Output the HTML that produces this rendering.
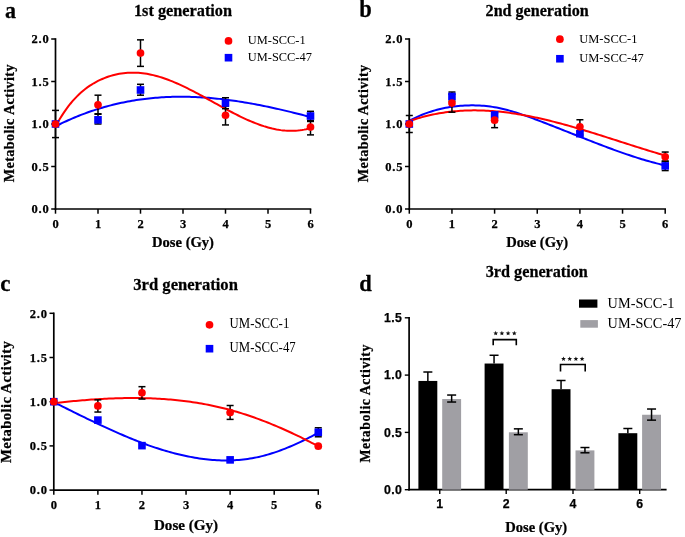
<!DOCTYPE html>
<html><head><meta charset="utf-8"><style>
html,body{margin:0;padding:0;background:#fff;width:685px;height:537px;overflow:hidden}
svg{display:block;filter:blur(0.4px)} text[font-weight=bold]{stroke:#000;stroke-width:0.25px}
</style></head><body>
<svg width="685" height="537" viewBox="0 0 685 537">
<rect width="685" height="537" fill="#fff"/>
<line x1="55.5" y1="38.2" x2="55.5" y2="209.8" stroke="#000" stroke-width="1.7"/>
<line x1="51.2" y1="209" x2="55.5" y2="209" stroke="#000" stroke-width="1.5"/>
<text x="49.5" y="213.2" font-family='"Liberation Serif", serif' font-size="12.5" font-weight="bold" text-anchor="end" letter-spacing="0.8" >0.0</text>
<line x1="51.2" y1="166.5" x2="55.5" y2="166.5" stroke="#000" stroke-width="1.5"/>
<text x="49.5" y="170.7" font-family='"Liberation Serif", serif' font-size="12.5" font-weight="bold" text-anchor="end" letter-spacing="0.8" >0.5</text>
<line x1="51.2" y1="124" x2="55.5" y2="124" stroke="#000" stroke-width="1.5"/>
<text x="49.5" y="128.2" font-family='"Liberation Serif", serif' font-size="12.5" font-weight="bold" text-anchor="end" letter-spacing="0.8" >1.0</text>
<line x1="51.2" y1="81.5" x2="55.5" y2="81.5" stroke="#000" stroke-width="1.5"/>
<text x="49.5" y="85.7" font-family='"Liberation Serif", serif' font-size="12.5" font-weight="bold" text-anchor="end" letter-spacing="0.8" >1.5</text>
<line x1="51.2" y1="39" x2="55.5" y2="39" stroke="#000" stroke-width="1.5"/>
<text x="49.5" y="43.2" font-family='"Liberation Serif", serif' font-size="12.5" font-weight="bold" text-anchor="end" letter-spacing="0.8" >2.0</text>
<line x1="54.7" y1="209" x2="311.3" y2="209" stroke="#000" stroke-width="1.7"/>
<line x1="55.5" y1="209" x2="55.5" y2="213.7" stroke="#000" stroke-width="1.5"/>
<text x="55.5" y="227.5" font-family='"Liberation Serif", serif' font-size="12.5" font-weight="bold" text-anchor="middle" >0</text>
<line x1="98" y1="209" x2="98" y2="213.7" stroke="#000" stroke-width="1.5"/>
<text x="98" y="227.5" font-family='"Liberation Serif", serif' font-size="12.5" font-weight="bold" text-anchor="middle" >1</text>
<line x1="140.5" y1="209" x2="140.5" y2="213.7" stroke="#000" stroke-width="1.5"/>
<text x="140.5" y="227.5" font-family='"Liberation Serif", serif' font-size="12.5" font-weight="bold" text-anchor="middle" >2</text>
<line x1="183" y1="209" x2="183" y2="213.7" stroke="#000" stroke-width="1.5"/>
<text x="183" y="227.5" font-family='"Liberation Serif", serif' font-size="12.5" font-weight="bold" text-anchor="middle" >3</text>
<line x1="225.5" y1="209" x2="225.5" y2="213.7" stroke="#000" stroke-width="1.5"/>
<text x="225.5" y="227.5" font-family='"Liberation Serif", serif' font-size="12.5" font-weight="bold" text-anchor="middle" >4</text>
<line x1="268" y1="209" x2="268" y2="213.7" stroke="#000" stroke-width="1.5"/>
<text x="268" y="227.5" font-family='"Liberation Serif", serif' font-size="12.5" font-weight="bold" text-anchor="middle" >5</text>
<line x1="310.5" y1="209" x2="310.5" y2="213.7" stroke="#000" stroke-width="1.5"/>
<text x="310.5" y="227.5" font-family='"Liberation Serif", serif' font-size="12.5" font-weight="bold" text-anchor="middle" >6</text>
<text transform="translate(183 16) scale(1 1.04)" font-family='"Liberation Serif", serif' font-size="16.3" font-weight="bold" text-anchor="middle" >1st generation</text>
<text transform="translate(14 123.15) rotate(-90)" font-family='"Liberation Serif", serif' font-size="14.2" font-weight="bold" text-anchor="middle" letter-spacing="0.36" >Metabolic Activity</text>
<text transform="translate(183 246.8) scale(1 0.95)" font-family='"Liberation Serif", serif' font-size="14.6" font-weight="bold" text-anchor="middle" >Dose (Gy)</text>
<text transform="translate(5 17.5) scale(1 1.06)" font-family='"Liberation Serif", serif' font-size="22" font-weight="bold" text-anchor="start" >a</text>
<path d="M55.50,126.36 L57.62,125.29 L59.75,124.24 L61.88,123.21 L64.00,122.20 L66.12,121.22 L68.25,120.25 L70.38,119.31 L72.50,118.39 L74.62,117.49 L76.75,116.62 L78.88,115.76 L81.00,114.92 L83.12,114.11 L85.25,113.32 L87.38,112.54 L89.50,111.79 L91.62,111.06 L93.75,110.35 L95.88,109.65 L98.00,108.98 L100.12,108.33 L102.25,107.69 L104.38,107.08 L106.50,106.49 L108.62,105.91 L110.75,105.35 L112.88,104.82 L115.00,104.30 L117.12,103.80 L119.25,103.31 L121.38,102.85 L123.50,102.41 L125.62,101.98 L127.75,101.57 L129.88,101.18 L132.00,100.80 L134.12,100.45 L136.25,100.11 L138.38,99.78 L140.50,99.48 L142.62,99.19 L144.75,98.92 L146.88,98.66 L149.00,98.43 L151.12,98.20 L153.25,98.00 L155.38,97.81 L157.50,97.63 L159.62,97.48 L161.75,97.33 L163.88,97.21 L166.00,97.10 L168.12,97.00 L170.25,96.92 L172.38,96.85 L174.50,96.80 L176.62,96.76 L178.75,96.74 L180.88,96.73 L183.00,96.74 L185.12,96.76 L187.25,96.80 L189.38,96.84 L191.50,96.91 L193.62,96.98 L195.75,97.07 L197.88,97.17 L200.00,97.29 L202.12,97.41 L204.25,97.55 L206.38,97.71 L208.50,97.87 L210.63,98.05 L212.75,98.24 L214.88,98.44 L217.00,98.65 L219.12,98.87 L221.25,99.11 L223.38,99.36 L225.50,99.61 L227.62,99.88 L229.75,100.16 L231.88,100.45 L234.00,100.75 L236.12,101.06 L238.25,101.38 L240.38,101.71 L242.50,102.05 L244.62,102.39 L246.75,102.75 L248.88,103.12 L251.00,103.50 L253.13,103.88 L255.25,104.28 L257.38,104.68 L259.50,105.09 L261.62,105.51 L263.75,105.93 L265.88,106.37 L268.00,106.81 L270.12,107.26 L272.25,107.72 L274.38,108.18 L276.50,108.66 L278.62,109.14 L280.75,109.62 L282.88,110.11 L285.00,110.61 L287.12,111.12 L289.25,111.63 L291.38,112.15 L293.50,112.67 L295.62,113.20 L297.75,113.73 L299.88,114.27 L302.00,114.81 L304.12,115.36 L306.25,115.92 L308.38,116.47 L310.50,117.04" fill="none" stroke="#0000ff" stroke-width="2.0"/>
<path d="M55.50,126.45 L57.62,122.64 L59.75,119.03 L61.88,115.61 L64.00,112.38 L66.12,109.33 L68.25,106.46 L70.38,103.75 L72.50,101.21 L74.62,98.82 L76.75,96.58 L78.88,94.48 L81.00,92.52 L83.12,90.69 L85.25,88.98 L87.38,87.39 L89.50,85.91 L91.62,84.54 L93.75,83.26 L95.88,82.07 L98.00,80.96 L100.12,79.94 L102.25,78.98 L104.38,78.10 L106.50,77.29 L108.62,76.54 L110.75,75.87 L112.88,75.26 L115.00,74.72 L117.12,74.24 L119.25,73.82 L121.38,73.47 L123.50,73.18 L125.62,72.96 L127.75,72.79 L129.88,72.68 L132.00,72.63 L134.12,72.64 L136.25,72.71 L138.38,72.82 L140.50,73.00 L142.62,73.23 L144.75,73.51 L146.88,73.84 L149.00,74.22 L151.12,74.65 L153.25,75.13 L155.38,75.66 L157.50,76.23 L159.62,76.85 L161.75,77.52 L163.88,78.22 L166.00,78.96 L168.12,79.74 L170.25,80.56 L172.38,81.41 L174.50,82.30 L176.62,83.22 L178.75,84.16 L180.88,85.13 L183.00,86.13 L185.12,87.15 L187.25,88.20 L189.38,89.27 L191.50,90.35 L193.62,91.45 L195.75,92.57 L197.88,93.70 L200.00,94.84 L202.12,96.00 L204.25,97.16 L206.38,98.33 L208.50,99.50 L210.63,100.68 L212.75,101.86 L214.88,103.04 L217.00,104.21 L219.12,105.39 L221.25,106.56 L223.38,107.72 L225.50,108.87 L227.62,110.01 L229.75,111.14 L231.88,112.26 L234.00,113.36 L236.12,114.44 L238.25,115.51 L240.38,116.55 L242.50,117.57 L244.62,118.57 L246.75,119.54 L248.88,120.48 L251.00,121.40 L253.13,122.28 L255.25,123.13 L257.38,123.94 L259.50,124.72 L261.62,125.46 L263.75,126.17 L265.88,126.82 L268.00,127.44 L270.12,128.01 L272.25,128.54 L274.38,129.01 L276.50,129.44 L278.62,129.81 L280.75,130.13 L282.88,130.40 L285.00,130.61 L287.12,130.76 L289.25,130.85 L291.38,130.87 L293.50,130.84 L295.62,130.73 L297.75,130.56 L299.88,130.32 L302.00,130.01 L304.12,129.63 L306.25,129.18 L308.38,128.64 L310.50,128.03" fill="none" stroke="#ff0000" stroke-width="2.0"/>
<line x1="98" y1="124" x2="98" y2="114.22" stroke="#000" stroke-width="1.5"/>
<line x1="94.5" y1="124" x2="101.5" y2="124" stroke="#000" stroke-width="1.5"/>
<line x1="94.5" y1="114.22" x2="101.5" y2="114.22" stroke="#000" stroke-width="1.5"/>
<line x1="140.5" y1="95.19" x2="140.5" y2="84.3" stroke="#000" stroke-width="1.5"/>
<line x1="137" y1="95.19" x2="144" y2="95.19" stroke="#000" stroke-width="1.5"/>
<line x1="137" y1="84.3" x2="144" y2="84.3" stroke="#000" stroke-width="1.5"/>
<line x1="225.5" y1="108.7" x2="225.5" y2="97.73" stroke="#000" stroke-width="1.5"/>
<line x1="222" y1="108.7" x2="229" y2="108.7" stroke="#000" stroke-width="1.5"/>
<line x1="222" y1="97.73" x2="229" y2="97.73" stroke="#000" stroke-width="1.5"/>
<line x1="310.5" y1="120.6" x2="310.5" y2="111.33" stroke="#000" stroke-width="1.5"/>
<line x1="307" y1="120.6" x2="314" y2="120.6" stroke="#000" stroke-width="1.5"/>
<line x1="307" y1="111.33" x2="314" y2="111.33" stroke="#000" stroke-width="1.5"/>
<line x1="55.5" y1="137.6" x2="55.5" y2="110.4" stroke="#000" stroke-width="1.5"/>
<line x1="52" y1="137.6" x2="59" y2="137.6" stroke="#000" stroke-width="1.5"/>
<line x1="52" y1="110.4" x2="59" y2="110.4" stroke="#000" stroke-width="1.5"/>
<line x1="98" y1="113.8" x2="98" y2="95.19" stroke="#000" stroke-width="1.5"/>
<line x1="94.5" y1="113.8" x2="101.5" y2="113.8" stroke="#000" stroke-width="1.5"/>
<line x1="94.5" y1="95.19" x2="101.5" y2="95.19" stroke="#000" stroke-width="1.5"/>
<line x1="140.5" y1="66.37" x2="140.5" y2="39.85" stroke="#000" stroke-width="1.5"/>
<line x1="137" y1="66.37" x2="144" y2="66.37" stroke="#000" stroke-width="1.5"/>
<line x1="137" y1="39.85" x2="144" y2="39.85" stroke="#000" stroke-width="1.5"/>
<line x1="225.5" y1="124.94" x2="225.5" y2="106.15" stroke="#000" stroke-width="1.5"/>
<line x1="222" y1="124.94" x2="229" y2="124.94" stroke="#000" stroke-width="1.5"/>
<line x1="222" y1="106.15" x2="229" y2="106.15" stroke="#000" stroke-width="1.5"/>
<line x1="310.5" y1="134.88" x2="310.5" y2="121.45" stroke="#000" stroke-width="1.5"/>
<line x1="307" y1="134.88" x2="314" y2="134.88" stroke="#000" stroke-width="1.5"/>
<line x1="307" y1="121.45" x2="314" y2="121.45" stroke="#000" stroke-width="1.5"/>
<rect x="51.7" y="120.2" width="7.6" height="7.6" fill="#0000ff"/>
<rect x="94.2" y="116.04" width="7.6" height="7.6" fill="#0000ff"/>
<rect x="136.7" y="86.2" width="7.6" height="7.6" fill="#0000ff"/>
<rect x="221.7" y="99.2" width="7.6" height="7.6" fill="#0000ff"/>
<rect x="306.7" y="112.21" width="7.6" height="7.6" fill="#0000ff"/>
<circle cx="55.5" cy="124" r="3.85" fill="#ff0000"/>
<circle cx="98" cy="104.79" r="3.85" fill="#ff0000"/>
<circle cx="140.5" cy="53.11" r="3.85" fill="#ff0000"/>
<circle cx="225.5" cy="115.25" r="3.85" fill="#ff0000"/>
<circle cx="310.5" cy="127.06" r="3.85" fill="#ff0000"/>
<circle cx="228.5" cy="40.9" r="3.85" fill="#ff0000"/>
<rect x="224.7" y="53.9" width="7.6" height="7.6" fill="#0000ff"/>
<text transform="translate(247.8 44) scale(1 1.05)" font-family='"Liberation Serif", serif' font-size="12.4" font-weight="normal" text-anchor="start" >UM-SCC-1</text>
<text transform="translate(247.8 61.1) scale(1 1.05)" font-family='"Liberation Serif", serif' font-size="12.4" font-weight="normal" text-anchor="start" >UM-SCC-47</text>
<line x1="409.3" y1="38.2" x2="409.3" y2="209.8" stroke="#000" stroke-width="1.7"/>
<line x1="405" y1="209" x2="409.3" y2="209" stroke="#000" stroke-width="1.5"/>
<text x="403.3" y="213.2" font-family='"Liberation Serif", serif' font-size="12.5" font-weight="bold" text-anchor="end" letter-spacing="0.8" >0.0</text>
<line x1="405" y1="166.5" x2="409.3" y2="166.5" stroke="#000" stroke-width="1.5"/>
<text x="403.3" y="170.7" font-family='"Liberation Serif", serif' font-size="12.5" font-weight="bold" text-anchor="end" letter-spacing="0.8" >0.5</text>
<line x1="405" y1="124" x2="409.3" y2="124" stroke="#000" stroke-width="1.5"/>
<text x="403.3" y="128.2" font-family='"Liberation Serif", serif' font-size="12.5" font-weight="bold" text-anchor="end" letter-spacing="0.8" >1.0</text>
<line x1="405" y1="81.5" x2="409.3" y2="81.5" stroke="#000" stroke-width="1.5"/>
<text x="403.3" y="85.7" font-family='"Liberation Serif", serif' font-size="12.5" font-weight="bold" text-anchor="end" letter-spacing="0.8" >1.5</text>
<line x1="405" y1="39" x2="409.3" y2="39" stroke="#000" stroke-width="1.5"/>
<text x="403.3" y="43.2" font-family='"Liberation Serif", serif' font-size="12.5" font-weight="bold" text-anchor="end" letter-spacing="0.8" >2.0</text>
<line x1="408.5" y1="209" x2="666" y2="209" stroke="#000" stroke-width="1.7"/>
<line x1="409.3" y1="209" x2="409.3" y2="213.7" stroke="#000" stroke-width="1.5"/>
<text x="409.3" y="227.5" font-family='"Liberation Serif", serif' font-size="12.5" font-weight="bold" text-anchor="middle" >0</text>
<line x1="451.95" y1="209" x2="451.95" y2="213.7" stroke="#000" stroke-width="1.5"/>
<text x="451.95" y="227.5" font-family='"Liberation Serif", serif' font-size="12.5" font-weight="bold" text-anchor="middle" >1</text>
<line x1="494.6" y1="209" x2="494.6" y2="213.7" stroke="#000" stroke-width="1.5"/>
<text x="494.6" y="227.5" font-family='"Liberation Serif", serif' font-size="12.5" font-weight="bold" text-anchor="middle" >2</text>
<line x1="537.25" y1="209" x2="537.25" y2="213.7" stroke="#000" stroke-width="1.5"/>
<text x="537.25" y="227.5" font-family='"Liberation Serif", serif' font-size="12.5" font-weight="bold" text-anchor="middle" >3</text>
<line x1="579.9" y1="209" x2="579.9" y2="213.7" stroke="#000" stroke-width="1.5"/>
<text x="579.9" y="227.5" font-family='"Liberation Serif", serif' font-size="12.5" font-weight="bold" text-anchor="middle" >4</text>
<line x1="622.55" y1="209" x2="622.55" y2="213.7" stroke="#000" stroke-width="1.5"/>
<text x="622.55" y="227.5" font-family='"Liberation Serif", serif' font-size="12.5" font-weight="bold" text-anchor="middle" >5</text>
<line x1="665.2" y1="209" x2="665.2" y2="213.7" stroke="#000" stroke-width="1.5"/>
<text x="665.2" y="227.5" font-family='"Liberation Serif", serif' font-size="12.5" font-weight="bold" text-anchor="middle" >6</text>
<text transform="translate(537.2 16.2) scale(1 1.04)" font-family='"Liberation Serif", serif' font-size="16.1" font-weight="bold" text-anchor="middle" >2nd generation</text>
<text transform="translate(367.7 123.35) rotate(-90)" font-family='"Liberation Serif", serif' font-size="14.1" font-weight="bold" text-anchor="middle" letter-spacing="0.38" >Metabolic Activity</text>
<text transform="translate(537.2 246.8) scale(1 0.95)" font-family='"Liberation Serif", serif' font-size="14.6" font-weight="bold" text-anchor="middle" >Dose (Gy)</text>
<text transform="translate(359.3 17.3) scale(1 1.09)" font-family='"Liberation Serif", serif' font-size="22.5" font-weight="bold" text-anchor="start" >b</text>
<path d="M409.30,120.70 L411.43,119.60 L413.56,118.55 L415.70,117.54 L417.83,116.57 L419.96,115.65 L422.10,114.78 L424.23,113.94 L426.36,113.15 L428.49,112.40 L430.62,111.69 L432.76,111.02 L434.89,110.39 L437.02,109.80 L439.16,109.25 L441.29,108.74 L443.42,108.27 L445.55,107.83 L447.69,107.43 L449.82,107.07 L451.95,106.74 L454.08,106.45 L456.22,106.20 L458.35,105.98 L460.48,105.79 L462.61,105.64 L464.75,105.52 L466.88,105.43 L469.01,105.38 L471.14,105.35 L473.27,105.36 L475.41,105.40 L477.54,105.47 L479.67,105.57 L481.81,105.70 L483.94,105.87 L486.07,106.06 L488.20,106.30 L490.34,106.57 L492.47,106.88 L494.60,107.22 L496.73,107.60 L498.87,108.02 L501.00,108.48 L503.13,108.97 L505.26,109.49 L507.40,110.04 L509.53,110.62 L511.66,111.23 L513.79,111.86 L515.92,112.51 L518.06,113.19 L520.19,113.89 L522.32,114.61 L524.46,115.34 L526.59,116.10 L528.72,116.86 L530.85,117.64 L532.99,118.42 L535.12,119.22 L537.25,120.02 L539.38,120.83 L541.51,121.65 L543.65,122.47 L545.78,123.29 L547.91,124.12 L550.05,124.95 L552.18,125.78 L554.31,126.61 L556.44,127.45 L558.58,128.29 L560.71,129.13 L562.84,129.98 L564.97,130.82 L567.11,131.67 L569.24,132.51 L571.37,133.36 L573.50,134.20 L575.63,135.05 L577.77,135.89 L579.90,136.74 L582.03,137.58 L584.16,138.42 L586.30,139.26 L588.43,140.09 L590.56,140.93 L592.69,141.76 L594.83,142.58 L596.96,143.41 L599.09,144.23 L601.23,145.04 L603.36,145.85 L605.49,146.66 L607.62,147.46 L609.75,148.25 L611.89,149.04 L614.02,149.82 L616.15,150.60 L618.29,151.36 L620.42,152.12 L622.55,152.87 L624.68,153.61 L626.82,154.34 L628.95,155.07 L631.08,155.78 L633.21,156.48 L635.35,157.17 L637.48,157.85 L639.61,158.52 L641.74,159.17 L643.88,159.81 L646.01,160.44 L648.14,161.05 L650.27,161.65 L652.40,162.24 L654.54,162.81 L656.67,163.36 L658.80,163.90 L660.94,164.42 L663.07,164.93 L665.20,165.42" fill="none" stroke="#0000ff" stroke-width="2.0"/>
<path d="M409.30,121.13 L411.43,120.39 L413.56,119.68 L415.70,119.01 L417.83,118.35 L419.96,117.73 L422.10,117.14 L424.23,116.57 L426.36,116.03 L428.49,115.51 L430.62,115.03 L432.76,114.57 L434.89,114.13 L437.02,113.72 L439.16,113.34 L441.29,112.98 L443.42,112.64 L445.55,112.33 L447.69,112.04 L449.82,111.78 L451.95,111.54 L454.08,111.32 L456.22,111.13 L458.35,110.96 L460.48,110.81 L462.61,110.69 L464.75,110.58 L466.88,110.50 L469.01,110.44 L471.14,110.39 L473.27,110.37 L475.41,110.37 L477.54,110.39 L479.67,110.43 L481.81,110.49 L483.94,110.57 L486.07,110.66 L488.20,110.78 L490.34,110.91 L492.47,111.06 L494.60,111.23 L496.73,111.42 L498.87,111.62 L501.00,111.84 L503.13,112.08 L505.26,112.33 L507.40,112.60 L509.53,112.88 L511.66,113.18 L513.79,113.49 L515.92,113.82 L518.06,114.16 L520.19,114.52 L522.32,114.89 L524.46,115.27 L526.59,115.67 L528.72,116.08 L530.85,116.50 L532.99,116.94 L535.12,117.38 L537.25,117.84 L539.38,118.31 L541.51,118.79 L543.65,119.28 L545.78,119.78 L547.91,120.30 L550.05,120.82 L552.18,121.35 L554.31,121.89 L556.44,122.44 L558.58,123.00 L560.71,123.57 L562.84,124.14 L564.97,124.73 L567.11,125.32 L569.24,125.91 L571.37,126.52 L573.50,127.13 L575.63,127.75 L577.77,128.37 L579.90,129.00 L582.03,129.64 L584.16,130.28 L586.30,130.93 L588.43,131.58 L590.56,132.23 L592.69,132.89 L594.83,133.55 L596.96,134.22 L599.09,134.88 L601.23,135.56 L603.36,136.23 L605.49,136.91 L607.62,137.58 L609.75,138.26 L611.89,138.95 L614.02,139.63 L616.15,140.31 L618.29,140.99 L620.42,141.68 L622.55,142.36 L624.68,143.04 L626.82,143.73 L628.95,144.41 L631.08,145.09 L633.21,145.77 L635.35,146.44 L637.48,147.12 L639.61,147.79 L641.74,148.46 L643.88,149.12 L646.01,149.79 L648.14,150.45 L650.27,151.10 L652.40,151.75 L654.54,152.40 L656.67,153.04 L658.80,153.68 L660.94,154.31 L663.07,154.93 L665.20,155.55" fill="none" stroke="#ff0000" stroke-width="2.0"/>
<line x1="451.95" y1="101.05" x2="451.95" y2="92.04" stroke="#000" stroke-width="1.5"/>
<line x1="448.45" y1="101.05" x2="455.45" y2="101.05" stroke="#000" stroke-width="1.5"/>
<line x1="448.45" y1="92.04" x2="455.45" y2="92.04" stroke="#000" stroke-width="1.5"/>
<line x1="494.6" y1="117.2" x2="494.6" y2="112.95" stroke="#000" stroke-width="1.5"/>
<line x1="491.1" y1="117.2" x2="498.1" y2="117.2" stroke="#000" stroke-width="1.5"/>
<line x1="491.1" y1="112.95" x2="498.1" y2="112.95" stroke="#000" stroke-width="1.5"/>
<line x1="579.9" y1="135.9" x2="579.9" y2="131.65" stroke="#000" stroke-width="1.5"/>
<line x1="576.4" y1="135.9" x2="583.4" y2="135.9" stroke="#000" stroke-width="1.5"/>
<line x1="576.4" y1="131.65" x2="583.4" y2="131.65" stroke="#000" stroke-width="1.5"/>
<line x1="665.2" y1="170.58" x2="665.2" y2="161.06" stroke="#000" stroke-width="1.5"/>
<line x1="661.7" y1="170.58" x2="668.7" y2="170.58" stroke="#000" stroke-width="1.5"/>
<line x1="661.7" y1="161.06" x2="668.7" y2="161.06" stroke="#000" stroke-width="1.5"/>
<line x1="409.3" y1="132.5" x2="409.3" y2="115.5" stroke="#000" stroke-width="1.5"/>
<line x1="405.8" y1="132.5" x2="412.8" y2="132.5" stroke="#000" stroke-width="1.5"/>
<line x1="405.8" y1="115.5" x2="412.8" y2="115.5" stroke="#000" stroke-width="1.5"/>
<line x1="451.95" y1="112.19" x2="451.95" y2="94.25" stroke="#000" stroke-width="1.5"/>
<line x1="448.45" y1="112.19" x2="455.45" y2="112.19" stroke="#000" stroke-width="1.5"/>
<line x1="448.45" y1="94.25" x2="455.45" y2="94.25" stroke="#000" stroke-width="1.5"/>
<line x1="494.6" y1="127.66" x2="494.6" y2="112.95" stroke="#000" stroke-width="1.5"/>
<line x1="491.1" y1="127.66" x2="498.1" y2="127.66" stroke="#000" stroke-width="1.5"/>
<line x1="491.1" y1="112.95" x2="498.1" y2="112.95" stroke="#000" stroke-width="1.5"/>
<line x1="579.9" y1="134.2" x2="579.9" y2="119.75" stroke="#000" stroke-width="1.5"/>
<line x1="576.4" y1="134.2" x2="583.4" y2="134.2" stroke="#000" stroke-width="1.5"/>
<line x1="576.4" y1="119.75" x2="583.4" y2="119.75" stroke="#000" stroke-width="1.5"/>
<line x1="665.2" y1="161.4" x2="665.2" y2="152.05" stroke="#000" stroke-width="1.5"/>
<line x1="661.7" y1="161.4" x2="668.7" y2="161.4" stroke="#000" stroke-width="1.5"/>
<line x1="661.7" y1="152.05" x2="668.7" y2="152.05" stroke="#000" stroke-width="1.5"/>
<rect x="405.5" y="120.2" width="7.6" height="7.6" fill="#0000ff"/>
<rect x="448.15" y="92.66" width="7.6" height="7.6" fill="#0000ff"/>
<rect x="490.8" y="111.11" width="7.6" height="7.6" fill="#0000ff"/>
<rect x="576.1" y="129.89" width="7.6" height="7.6" fill="#0000ff"/>
<rect x="661.4" y="162.1" width="7.6" height="7.6" fill="#0000ff"/>
<circle cx="409.3" cy="124" r="3.85" fill="#ff0000"/>
<circle cx="451.95" cy="103.09" r="3.85" fill="#ff0000"/>
<circle cx="494.6" cy="120.18" r="3.85" fill="#ff0000"/>
<circle cx="579.9" cy="126.81" r="3.85" fill="#ff0000"/>
<circle cx="665.2" cy="156.81" r="3.85" fill="#ff0000"/>
<circle cx="559.9" cy="39.2" r="3.85" fill="#ff0000"/>
<rect x="556.1" y="54.95" width="7.6" height="7.6" fill="#0000ff"/>
<text transform="translate(579.2 42.7) scale(1 1.05)" font-family='"Liberation Serif", serif' font-size="12.5" font-weight="normal" text-anchor="start" >UM-SCC-1</text>
<text transform="translate(579.2 62.2) scale(1 1.05)" font-family='"Liberation Serif", serif' font-size="12.5" font-weight="normal" text-anchor="start" >UM-SCC-47</text>
<line x1="53.8" y1="312.5" x2="53.8" y2="490.9" stroke="#000" stroke-width="1.7"/>
<line x1="49.5" y1="490.1" x2="53.8" y2="490.1" stroke="#000" stroke-width="1.5"/>
<text x="47.8" y="494.3" font-family='"Liberation Serif", serif' font-size="12.5" font-weight="bold" text-anchor="end" letter-spacing="0.8" >0.0</text>
<line x1="49.5" y1="445.9" x2="53.8" y2="445.9" stroke="#000" stroke-width="1.5"/>
<text x="47.8" y="450.1" font-family='"Liberation Serif", serif' font-size="12.5" font-weight="bold" text-anchor="end" letter-spacing="0.8" >0.5</text>
<line x1="49.5" y1="401.7" x2="53.8" y2="401.7" stroke="#000" stroke-width="1.5"/>
<text x="47.8" y="405.9" font-family='"Liberation Serif", serif' font-size="12.5" font-weight="bold" text-anchor="end" letter-spacing="0.8" >1.0</text>
<line x1="49.5" y1="357.5" x2="53.8" y2="357.5" stroke="#000" stroke-width="1.5"/>
<text x="47.8" y="361.7" font-family='"Liberation Serif", serif' font-size="12.5" font-weight="bold" text-anchor="end" letter-spacing="0.8" >1.5</text>
<line x1="49.5" y1="313.3" x2="53.8" y2="313.3" stroke="#000" stroke-width="1.5"/>
<text x="47.8" y="317.5" font-family='"Liberation Serif", serif' font-size="12.5" font-weight="bold" text-anchor="end" letter-spacing="0.8" >2.0</text>
<line x1="53" y1="490.1" x2="319.08" y2="490.1" stroke="#000" stroke-width="1.7"/>
<line x1="53.8" y1="490.1" x2="53.8" y2="494.8" stroke="#000" stroke-width="1.5"/>
<text x="53.8" y="509.3" font-family='"Liberation Serif", serif' font-size="12.5" font-weight="bold" text-anchor="middle" >0</text>
<line x1="97.88" y1="490.1" x2="97.88" y2="494.8" stroke="#000" stroke-width="1.5"/>
<text x="97.88" y="509.3" font-family='"Liberation Serif", serif' font-size="12.5" font-weight="bold" text-anchor="middle" >1</text>
<line x1="141.96" y1="490.1" x2="141.96" y2="494.8" stroke="#000" stroke-width="1.5"/>
<text x="141.96" y="509.3" font-family='"Liberation Serif", serif' font-size="12.5" font-weight="bold" text-anchor="middle" >2</text>
<line x1="186.04" y1="490.1" x2="186.04" y2="494.8" stroke="#000" stroke-width="1.5"/>
<text x="186.04" y="509.3" font-family='"Liberation Serif", serif' font-size="12.5" font-weight="bold" text-anchor="middle" >3</text>
<line x1="230.12" y1="490.1" x2="230.12" y2="494.8" stroke="#000" stroke-width="1.5"/>
<text x="230.12" y="509.3" font-family='"Liberation Serif", serif' font-size="12.5" font-weight="bold" text-anchor="middle" >4</text>
<line x1="274.2" y1="490.1" x2="274.2" y2="494.8" stroke="#000" stroke-width="1.5"/>
<text x="274.2" y="509.3" font-family='"Liberation Serif", serif' font-size="12.5" font-weight="bold" text-anchor="middle" >5</text>
<line x1="318.28" y1="490.1" x2="318.28" y2="494.8" stroke="#000" stroke-width="1.5"/>
<text x="318.28" y="509.3" font-family='"Liberation Serif", serif' font-size="12.5" font-weight="bold" text-anchor="middle" >6</text>
<text transform="translate(185.6 290) scale(1 1.04)" font-family='"Liberation Serif", serif' font-size="16.6" font-weight="bold" text-anchor="middle" >3rd generation</text>
<text transform="translate(11.2 401.8) rotate(-90)" font-family='"Liberation Serif", serif' font-size="14.7" font-weight="bold" text-anchor="middle" letter-spacing="0.38" >Metabolic Activity</text>
<text transform="translate(186 530.2) scale(1 0.95)" font-family='"Liberation Serif", serif' font-size="15.1" font-weight="bold" text-anchor="middle" >Dose (Gy)</text>
<text transform="translate(0.3 291) scale(1 1.03)" font-family='"Liberation Serif", serif' font-size="23" font-weight="bold" text-anchor="start" >c</text>
<path d="M53.80,402.05 L56.00,403.17 L58.21,404.30 L60.41,405.41 L62.62,406.53 L64.82,407.64 L67.02,408.75 L69.23,409.85 L71.43,410.96 L73.64,412.05 L75.84,413.15 L78.04,414.23 L80.25,415.32 L82.45,416.40 L84.66,417.47 L86.86,418.54 L89.06,419.60 L91.27,420.66 L93.47,421.71 L95.68,422.76 L97.88,423.80 L100.08,424.83 L102.29,425.86 L104.49,426.88 L106.70,427.89 L108.90,428.90 L111.10,429.90 L113.31,430.89 L115.51,431.87 L117.72,432.84 L119.92,433.81 L122.12,434.77 L124.33,435.72 L126.53,436.66 L128.74,437.59 L130.94,438.50 L133.14,439.41 L135.35,440.30 L137.55,441.18 L139.76,442.04 L141.96,442.89 L144.16,443.72 L146.37,444.53 L148.57,445.32 L150.78,446.10 L152.98,446.85 L155.18,447.59 L157.39,448.32 L159.59,449.02 L161.80,449.70 L164.00,450.37 L166.20,451.02 L168.41,451.65 L170.61,452.26 L172.82,452.85 L175.02,453.43 L177.22,453.98 L179.43,454.52 L181.63,455.03 L183.84,455.53 L186.04,456.01 L188.24,456.46 L190.45,456.89 L192.65,457.30 L194.86,457.69 L197.06,458.05 L199.26,458.40 L201.47,458.71 L203.67,459.01 L205.88,459.27 L208.08,459.52 L210.28,459.73 L212.49,459.92 L214.69,460.08 L216.90,460.22 L219.10,460.33 L221.30,460.40 L223.51,460.45 L225.71,460.47 L227.92,460.46 L230.12,460.42 L232.32,460.35 L234.53,460.25 L236.73,460.12 L238.94,459.95 L241.14,459.75 L243.34,459.52 L245.55,459.25 L247.75,458.95 L249.96,458.61 L252.16,458.24 L254.36,457.84 L256.57,457.39 L258.77,456.91 L260.98,456.40 L263.18,455.85 L265.38,455.26 L267.59,454.64 L269.79,453.99 L272.00,453.31 L274.20,452.59 L276.40,451.84 L278.61,451.07 L280.81,450.26 L283.02,449.42 L285.22,448.56 L287.42,447.67 L289.63,446.75 L291.83,445.81 L294.04,444.84 L296.24,443.85 L298.44,442.83 L300.65,441.79 L302.85,440.73 L305.06,439.65 L307.26,438.54 L309.46,437.42 L311.67,436.28 L313.87,435.11 L316.08,433.93 L318.28,432.74" fill="none" stroke="#0000ff" stroke-width="2.0"/>
<path d="M53.80,403.17 L56.00,402.92 L58.21,402.68 L60.41,402.44 L62.62,402.20 L64.82,401.97 L67.02,401.74 L69.23,401.52 L71.43,401.30 L73.64,401.09 L75.84,400.89 L78.04,400.69 L80.25,400.50 L82.45,400.31 L84.66,400.13 L86.86,399.95 L89.06,399.79 L91.27,399.62 L93.47,399.47 L95.68,399.32 L97.88,399.18 L100.08,399.05 L102.29,398.92 L104.49,398.80 L106.70,398.69 L108.90,398.59 L111.10,398.50 L113.31,398.41 L115.51,398.33 L117.72,398.26 L119.92,398.20 L122.12,398.15 L124.33,398.11 L126.53,398.07 L128.74,398.05 L130.94,398.03 L133.14,398.03 L135.35,398.03 L137.55,398.05 L139.76,398.07 L141.96,398.11 L144.16,398.15 L146.37,398.21 L148.57,398.27 L150.78,398.35 L152.98,398.44 L155.18,398.54 L157.39,398.65 L159.59,398.77 L161.80,398.91 L164.00,399.05 L166.20,399.21 L168.41,399.38 L170.61,399.57 L172.82,399.76 L175.02,399.97 L177.22,400.20 L179.43,400.43 L181.63,400.68 L183.84,400.95 L186.04,401.22 L188.24,401.51 L190.45,401.82 L192.65,402.14 L194.86,402.47 L197.06,402.82 L199.26,403.18 L201.47,403.56 L203.67,403.96 L205.88,404.37 L208.08,404.79 L210.28,405.23 L212.49,405.69 L214.69,406.16 L216.90,406.65 L219.10,407.15 L221.30,407.68 L223.51,408.22 L225.71,408.77 L227.92,409.34 L230.12,409.94 L232.32,410.54 L234.53,411.17 L236.73,411.81 L238.94,412.47 L241.14,413.15 L243.34,413.84 L245.55,414.55 L247.75,415.28 L249.96,416.02 L252.16,416.78 L254.36,417.55 L256.57,418.34 L258.77,419.15 L260.98,419.97 L263.18,420.81 L265.38,421.66 L267.59,422.53 L269.79,423.41 L272.00,424.31 L274.20,425.22 L276.40,426.14 L278.61,427.08 L280.81,428.04 L283.02,429.00 L285.22,429.99 L287.42,430.98 L289.63,431.99 L291.83,433.01 L294.04,434.04 L296.24,435.09 L298.44,436.15 L300.65,437.22 L302.85,438.31 L305.06,439.41 L307.26,440.52 L309.46,441.64 L311.67,442.77 L313.87,443.92 L316.08,445.07 L318.28,446.24" fill="none" stroke="#ff0000" stroke-width="2.0"/>
<line x1="318.28" y1="436.79" x2="318.28" y2="427.78" stroke="#000" stroke-width="1.5"/>
<line x1="314.78" y1="436.79" x2="321.78" y2="436.79" stroke="#000" stroke-width="1.5"/>
<line x1="314.78" y1="427.78" x2="321.78" y2="427.78" stroke="#000" stroke-width="1.5"/>
<line x1="97.88" y1="412.04" x2="97.88" y2="399.84" stroke="#000" stroke-width="1.5"/>
<line x1="94.38" y1="412.04" x2="101.38" y2="412.04" stroke="#000" stroke-width="1.5"/>
<line x1="94.38" y1="399.84" x2="101.38" y2="399.84" stroke="#000" stroke-width="1.5"/>
<line x1="141.96" y1="399.05" x2="141.96" y2="386.67" stroke="#000" stroke-width="1.5"/>
<line x1="138.46" y1="399.05" x2="145.46" y2="399.05" stroke="#000" stroke-width="1.5"/>
<line x1="138.46" y1="386.67" x2="145.46" y2="386.67" stroke="#000" stroke-width="1.5"/>
<line x1="230.12" y1="419.38" x2="230.12" y2="405.5" stroke="#000" stroke-width="1.5"/>
<line x1="226.62" y1="419.38" x2="233.62" y2="419.38" stroke="#000" stroke-width="1.5"/>
<line x1="226.62" y1="405.5" x2="233.62" y2="405.5" stroke="#000" stroke-width="1.5"/>
<rect x="50" y="397.9" width="7.6" height="7.6" fill="#0000ff"/>
<rect x="94.08" y="416.29" width="7.6" height="7.6" fill="#0000ff"/>
<rect x="138.16" y="441.83" width="7.6" height="7.6" fill="#0000ff"/>
<rect x="226.32" y="456.07" width="7.6" height="7.6" fill="#0000ff"/>
<rect x="314.48" y="428.49" width="7.6" height="7.6" fill="#0000ff"/>
<circle cx="53.8" cy="401.7" r="3.85" fill="#ff0000"/>
<circle cx="97.88" cy="405.94" r="3.85" fill="#ff0000"/>
<circle cx="141.96" cy="392.86" r="3.85" fill="#ff0000"/>
<circle cx="230.12" cy="412.57" r="3.85" fill="#ff0000"/>
<circle cx="318.28" cy="446.17" r="3.85" fill="#ff0000"/>
<circle cx="209.5" cy="324.8" r="3.85" fill="#ff0000"/>
<rect x="205.7" y="344.9" width="7.6" height="7.6" fill="#0000ff"/>
<text transform="translate(229.6 328.3) scale(1 1.13)" font-family='"Liberation Serif", serif' font-size="12.8" font-weight="normal" text-anchor="start" >UM-SCC-1</text>
<text transform="translate(229.6 352) scale(1 1.13)" font-family='"Liberation Serif", serif' font-size="12.8" font-weight="normal" text-anchor="start" >UM-SCC-47</text>
<line x1="409.1" y1="317" x2="409.1" y2="490.5" stroke="#000" stroke-width="1.7"/>
<line x1="404.8" y1="489.7" x2="409.1" y2="489.7" stroke="#000" stroke-width="1.4"/>
<text x="402.1" y="494" font-family='"Liberation Sans", sans-serif' font-size="12.3" font-weight="bold" text-anchor="end" letter-spacing="0.3" >0.0</text>
<line x1="404.8" y1="432.4" x2="409.1" y2="432.4" stroke="#000" stroke-width="1.4"/>
<text x="402.1" y="436.7" font-family='"Liberation Sans", sans-serif' font-size="12.3" font-weight="bold" text-anchor="end" letter-spacing="0.3" >0.5</text>
<line x1="404.8" y1="375.1" x2="409.1" y2="375.1" stroke="#000" stroke-width="1.4"/>
<text x="402.1" y="379.4" font-family='"Liberation Sans", sans-serif' font-size="12.3" font-weight="bold" text-anchor="end" letter-spacing="0.3" >1.0</text>
<line x1="404.8" y1="317.8" x2="409.1" y2="317.8" stroke="#000" stroke-width="1.4"/>
<text x="402.1" y="322.1" font-family='"Liberation Sans", sans-serif' font-size="12.3" font-weight="bold" text-anchor="end" letter-spacing="0.3" >1.5</text>
<line x1="408.3" y1="489.7" x2="666.6" y2="489.7" stroke="#000" stroke-width="1.7"/>
<rect x="418.4" y="380.94" width="18.9" height="108.76" fill="#000"/>
<line x1="427.85" y1="380.94" x2="427.85" y2="372.01" stroke="#000" stroke-width="1.5"/>
<line x1="423.35" y1="372.01" x2="432.35" y2="372.01" stroke="#000" stroke-width="1.5"/>
<rect x="442.2" y="399.05" width="18.9" height="90.65" fill="#a09fa4"/>
<line x1="451.65" y1="402.03" x2="451.65" y2="395.04" stroke="#000" stroke-width="1.5"/>
<line x1="447.15" y1="402.03" x2="456.15" y2="402.03" stroke="#000" stroke-width="1.5"/>
<line x1="447.15" y1="395.04" x2="456.15" y2="395.04" stroke="#000" stroke-width="1.5"/>
<line x1="439.75" y1="489.7" x2="439.75" y2="494" stroke="#000" stroke-width="1.4"/>
<text x="439.75" y="508.1" font-family='"Liberation Sans", sans-serif' font-size="12.3" font-weight="bold" text-anchor="middle" >1</text>
<rect x="484.6" y="363.53" width="18.9" height="126.17" fill="#000"/>
<line x1="494.05" y1="363.53" x2="494.05" y2="355.27" stroke="#000" stroke-width="1.5"/>
<line x1="489.55" y1="355.27" x2="498.55" y2="355.27" stroke="#000" stroke-width="1.5"/>
<rect x="508.9" y="432.29" width="18.9" height="57.41" fill="#a09fa4"/>
<line x1="518.35" y1="434.69" x2="518.35" y2="428.85" stroke="#000" stroke-width="1.5"/>
<line x1="513.85" y1="434.69" x2="522.85" y2="434.69" stroke="#000" stroke-width="1.5"/>
<line x1="513.85" y1="428.85" x2="522.85" y2="428.85" stroke="#000" stroke-width="1.5"/>
<line x1="506.2" y1="489.7" x2="506.2" y2="494" stroke="#000" stroke-width="1.4"/>
<text x="506.2" y="508.1" font-family='"Liberation Sans", sans-serif' font-size="12.3" font-weight="bold" text-anchor="middle" >2</text>
<rect x="551.6" y="389.2" width="18.9" height="100.5" fill="#000"/>
<line x1="561.05" y1="389.2" x2="561.05" y2="380.49" stroke="#000" stroke-width="1.5"/>
<line x1="556.55" y1="380.49" x2="565.55" y2="380.49" stroke="#000" stroke-width="1.5"/>
<rect x="575.5" y="450.39" width="18.9" height="39.31" fill="#a09fa4"/>
<line x1="584.95" y1="452.8" x2="584.95" y2="447.53" stroke="#000" stroke-width="1.5"/>
<line x1="580.45" y1="452.8" x2="589.45" y2="452.8" stroke="#000" stroke-width="1.5"/>
<line x1="580.45" y1="447.53" x2="589.45" y2="447.53" stroke="#000" stroke-width="1.5"/>
<line x1="573" y1="489.7" x2="573" y2="494" stroke="#000" stroke-width="1.4"/>
<text x="573" y="508.1" font-family='"Liberation Sans", sans-serif' font-size="12.3" font-weight="bold" text-anchor="middle" >4</text>
<rect x="618.4" y="433.2" width="18.9" height="56.5" fill="#000"/>
<line x1="627.85" y1="433.2" x2="627.85" y2="428.5" stroke="#000" stroke-width="1.5"/>
<line x1="623.35" y1="428.5" x2="632.35" y2="428.5" stroke="#000" stroke-width="1.5"/>
<rect x="642.1" y="414.75" width="18.9" height="74.95" fill="#a09fa4"/>
<line x1="651.55" y1="420.14" x2="651.55" y2="409.02" stroke="#000" stroke-width="1.5"/>
<line x1="647.05" y1="420.14" x2="656.05" y2="420.14" stroke="#000" stroke-width="1.5"/>
<line x1="647.05" y1="409.02" x2="656.05" y2="409.02" stroke="#000" stroke-width="1.5"/>
<line x1="639.7" y1="489.7" x2="639.7" y2="494" stroke="#000" stroke-width="1.4"/>
<text x="639.7" y="508.1" font-family='"Liberation Sans", sans-serif' font-size="12.3" font-weight="bold" text-anchor="middle" >6</text>
<path d="M493.2,345.3 L493.2,339.6 L516.3,339.6 L516.3,345.3" fill="none" stroke="#000" stroke-width="1.6"/>
<polygon points="495.70,330.85 496.35,332.46 498.08,332.58 496.75,333.69 497.17,335.37 495.70,334.45 494.23,335.37 494.65,333.69 493.32,332.58 495.05,332.46" fill="#111"/>
<polygon points="501.90,330.85 502.55,332.46 504.28,332.58 502.95,333.69 503.37,335.37 501.90,334.45 500.43,335.37 500.85,333.69 499.52,332.58 501.25,332.46" fill="#111"/>
<polygon points="508.10,330.85 508.75,332.46 510.48,332.58 509.15,333.69 509.57,335.37 508.10,334.45 506.63,335.37 507.05,333.69 505.72,332.58 507.45,332.46" fill="#111"/>
<polygon points="514.30,330.85 514.95,332.46 516.68,332.58 515.35,333.69 515.77,335.37 514.30,334.45 512.83,335.37 513.25,333.69 511.92,332.58 513.65,332.46" fill="#111"/>
<path d="M560.5,371.5 L560.5,364.5 L585.2,364.5 L585.2,371.5" fill="none" stroke="#000" stroke-width="1.6"/>
<polygon points="563.50,356.45 564.15,358.06 565.88,358.18 564.55,359.29 564.97,360.97 563.50,360.05 562.03,360.97 562.45,359.29 561.12,358.18 562.85,358.06" fill="#111"/>
<polygon points="569.70,356.45 570.35,358.06 572.08,358.18 570.75,359.29 571.17,360.97 569.70,360.05 568.23,360.97 568.65,359.29 567.32,358.18 569.05,358.06" fill="#111"/>
<polygon points="575.90,356.45 576.55,358.06 578.28,358.18 576.95,359.29 577.37,360.97 575.90,360.05 574.43,360.97 574.85,359.29 573.52,358.18 575.25,358.06" fill="#111"/>
<polygon points="582.10,356.45 582.75,358.06 584.48,358.18 583.15,359.29 583.57,360.97 582.10,360.05 580.63,360.97 581.05,359.29 579.72,358.18 581.45,358.06" fill="#111"/>
<text transform="translate(536.8 276.9) scale(1 1.04)" font-family='"Liberation Serif", serif' font-size="16.2" font-weight="bold" text-anchor="middle" >3rd generation</text>
<text transform="translate(359.3 290.5) scale(1 1.02)" font-family='"Liberation Serif", serif' font-size="22.5" font-weight="bold" text-anchor="start" >d</text>
<text transform="translate(369.9 403.3) rotate(-90)" font-family='"Liberation Serif", serif' font-size="13.8" font-weight="bold" text-anchor="middle" letter-spacing="0.56" >Metabolic Activity</text>
<text transform="translate(536.2 532.4) scale(1 0.95)" font-family='"Liberation Serif", serif' font-size="14.6" font-weight="bold" text-anchor="middle" >Dose (Gy)</text>
<rect x="579.0" y="299.5" width="18.4" height="8.2" fill="#000"/>
<rect x="580.3" y="320.1" width="17.6" height="7.6" fill="#a09fa4"/>
<text transform="translate(607.6 307.7) scale(1 0.99)" font-family='"Liberation Serif", serif' font-size="14.3" font-weight="normal" text-anchor="start" >UM-SCC-1</text>
<text transform="translate(607.6 327.8) scale(1 0.99)" font-family='"Liberation Serif", serif' font-size="14.3" font-weight="normal" text-anchor="start" >UM-SCC-47</text>
</svg>
</body></html>
